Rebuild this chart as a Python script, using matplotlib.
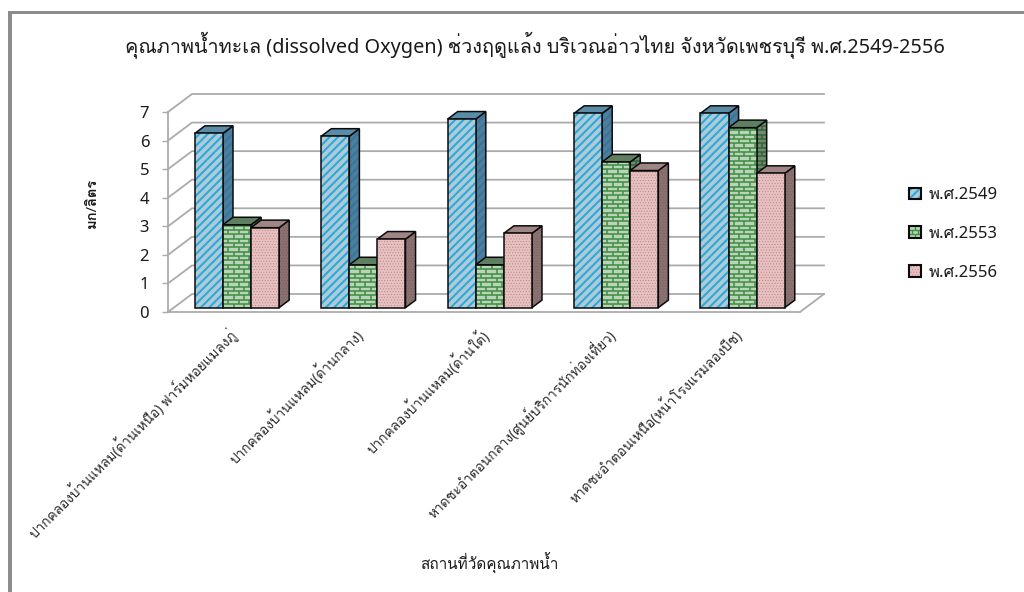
import matplotlib
matplotlib.use('Agg')
import matplotlib.pyplot as plt
from matplotlib.collections import LineCollection
from matplotlib.legend_handler import HandlerBase
from matplotlib.patches import Patch, Polygon, Rectangle
from matplotlib.transforms import ScaledTranslation

plt.rcParams['font.family'] = ['Noto Sans', 'Loma', 'DejaVu Sans']

TITLE = 'คุณภาพน้ำทะเล (dissolved Oxygen) ช่วงฤดูแล้ง บริเวณอ่าวไทย จังหวัดเพชรบุรี พ.ศ.2549-2556'
X_TITLE = 'สถานที่วัดคุณภาพน้ำ'
Y_TITLE = 'มก/ลิตร'

sites = [
    'ปากคลองบ้านแหลม(ด้านเหนือ) ฟาร์มหอยแมลงภู่',
    'ปากคลองบ้านแหลม(ด้านกลาง)',
    'ปากคลองบ้านแหลม(ด้านใต้)',
    'หาดชะอำตอนกลาง(ศูนย์บริการนักท่องเที่ยว)',
    'หาดชะอำตอนเหนือ(หน้าโรงแรมลองบีช)',
]
years = ['พ.ศ.2549', 'พ.ศ.2553', 'พ.ศ.2556']
do_2549 = [6.1, 6.0, 6.6, 6.8, 6.8]
do_2553 = [2.9, 1.5, 1.5, 5.1, 6.3]
do_2556 = [2.8, 2.4, 2.6, 4.8, 4.7]
y_ticks = [0, 1, 2, 3, 4, 5, 6, 7]

W, H = 1024, 592
GRID = '#ababab'
INK = '#1a1a1a'
BLACK = '#0a0a0a'

# Oblique projection of the chart box, in data units per unit of depth
DEPTH_X = 24 / 126.4
DEPTH_Y = 18 / 28.57
BAR_W = 1 / 4.5
BAR_FRONT = 0.24
BAR_BACK = 0.66

STYLES = [
    dict(front='#aecbd9', hatch='////', hatch_lw=1.5, ink='#2ea9d8',
         side='#4b7f9f', top='#5a8ca8', side_ink='#3f7396'),
    dict(front='#bcd3b8', brick='#3d8f45',
         side='#6d8c6d', top='#5f8060', side_ink='#35603a'),
    dict(front='#e4c2c2', hatch='......', hatch_lw=0.4, ink='#cf7f7f',
         side='#8b7272', top='#a08585', side_ink='#7a5c5c'),
]


def px_box(left, top, right, bottom):
    return [left / W, 1 - bottom / H, (right - left) / W, (bottom - top) / H]


def project(x, v, d):
    return x + d * DEPTH_X, v + d * DEPTH_Y


def brick_lines(x0, x1, y0, y1):
    row, col = 0.152, 0.084
    segs = []
    n = 0
    y = y0
    while y < y1:
        segs.append([(x0, y), (x1, y)])
        x = x0 + (col / 2 if n % 2 else 0)
        while x < x1:
            segs.append([(x, y), (x, y + row)])
            x += col
        y += row
        n += 1
    return segs


def hatch_artist(make, style, ink):
    # A patch keeps the hatch line width that is current when it is created
    with plt.rc_context({'hatch.linewidth': style['hatch_lw']}):
        return make(facecolor='none', edgecolor=ink, lw=0, hatch=style['hatch'])


def textured_face(ax, pts, fill, style, ink, lw=1.1):
    face = Polygon(pts, closed=True, facecolor=fill, edgecolor='none', lw=0,
                   clip_on=False, zorder=3)
    ax.add_patch(face)
    if style.get('hatch'):
        ax.add_patch(hatch_artist(
            lambda **kw: Polygon(pts, closed=True, clip_on=False, zorder=3, **kw),
            style, ink))
    elif style.get('brick'):
        xs = [p[0] for p in pts]
        ys = [p[1] for p in pts]
        bricks = LineCollection(
            brick_lines(min(xs), max(xs), min(ys) - 0.02, max(ys)),
            colors=ink, linewidths=lw, zorder=3)
        ax.add_collection(bricks, autolim=False)
        bricks.set_clip_path(face)
    ax.add_patch(Polygon(pts, closed=True, facecolor='none', edgecolor=BLACK,
                         lw=1.1, clip_on=False, zorder=3, joinstyle='miter'))


def draw_bar(ax, left, value, style):
    right = left + BAR_W
    fl = project(left, 0, BAR_FRONT)
    fr = project(right, 0, BAR_FRONT)
    tl = project(left, value, BAR_FRONT)
    tr = project(right, value, BAR_FRONT)
    bl = project(left, value, BAR_BACK)
    br = project(right, value, BAR_BACK)
    sb = project(right, 0, BAR_BACK)

    textured_face(ax, [fr, sb, br, tr], style['side'], style, style['side_ink'])
    ax.add_patch(Polygon([tl, tr, br, bl], closed=True, facecolor=style['top'],
                         edgecolor=BLACK, lw=1.1, clip_on=False, zorder=3))
    ink = style.get('ink', style.get('brick'))
    textured_face(ax, [fl, fr, tr, tl], style['front'], style, ink)


class HatchedKey(HandlerBase):
    def create_artists(self, legend, orig, xd, yd, width, height, fontsize, trans):
        st = orig.style
        x, y = -xd, -yd
        artists = [Rectangle((x, y), width, height, facecolor=st['front'],
                             edgecolor='none', transform=trans)]
        if st.get('hatch'):
            artists.append(hatch_artist(
                lambda **kw: Rectangle((x, y), width, height, transform=trans, **kw),
                st, st['ink']))
        else:
            segs = [[(x, y + height * f), (x + width, y + height * f)]
                    for f in (0.33, 0.66)]
            segs += [[(x + width * .5, y), (x + width * .5, y + height * .33)],
                     [(x + width * .25, y + height * .33), (x + width * .25, y + height * .66)],
                     [(x + width * .75, y + height * .33), (x + width * .75, y + height * .66)],
                     [(x + width * .5, y + height * .66), (x + width * .5, y + height)]]
            artists.append(LineCollection(segs, colors=st['brick'], linewidths=1.0,
                                          transform=trans))
        artists.append(Rectangle((x, y), width, height, facecolor='none',
                                 edgecolor=BLACK, lw=1.5, transform=trans))
        return artists


fig = plt.figure(figsize=(W / 100, H / 100), dpi=100, facecolor='white')

# Outer chart frame: left and top edges only, the rest runs off the page
for box in ((8, 11, 12, 592), (8, 11, 1024, 14)):
    fig.add_artist(Rectangle((box[0] / W, 1 - box[3] / H), (box[2] - box[0]) / W,
                             (box[3] - box[1]) / H, transform=fig.transFigure,
                             facecolor='#8c8c8c', edgecolor='none'))

ax = fig.add_axes(px_box(168, 112, 800, 312))
ax.set_xlim(0, len(sites))
ax.set_ylim(0, 7)
ax.patch.set_visible(False)

for name in ('top', 'right'):
    ax.spines[name].set_visible(False)
for name in ('left', 'bottom'):
    ax.spines[name].set_color(GRID)
    ax.spines[name].set_linewidth(1.3)
    ax.spines[name].set_zorder(1)

ax.set_yticks(y_ticks)
ax.tick_params(axis='y', length=4.5, width=1.0, color=GRID, labelsize=12,
               pad=9, labelcolor=INK)
ax.set_xticks([i + 0.5 for i in range(len(sites))])
ax.set_xticklabels(sites, rotation=45, ha='right', rotation_mode='anchor',
                   fontsize=9.8, color='#2a2a2a')
ax.tick_params(axis='x', length=0, pad=10)
shift = ScaledTranslation(-4 / 100, 0, fig.dpi_scale_trans)
for label in ax.get_xticklabels():
    label.set_transform(label.get_transform() + shift)

# Wall gridlines and the floor edges
n_sites = len(sites)
for v in y_ticks:
    x0, y0 = project(0, v, 0)
    x1, y1 = project(0, v, 1)
    x2, y2 = project(n_sites, v, 1)
    ax.plot([x0, x1, x2], [y0, y1, y2], color=GRID, lw=1.3, clip_on=False, zorder=1)
x0, y0 = project(n_sites, 0, 0)
x1, y1 = project(n_sites, 0, 1)
ax.plot([x0, x1], [y0, y1], color=GRID, lw=1.3, clip_on=False, zorder=1)

# Three bars per site, drawn left to right so the nearer faces overlap correctly
gap = (1 - 3 * BAR_W) / 2
for i in range(n_sites):
    for j, series in enumerate((do_2549, do_2553, do_2556)):
        draw_bar(ax, i + gap + j * BAR_W, series[i], STYLES[j])

fig.text(535 / W, 1 - 45 / H, TITLE, ha='center', va='center', fontsize=14.3, color=INK)
fig.text(489 / W, 1 - 563 / H, X_TITLE, ha='center', va='center', fontsize=11,
         color=INK)
fig.text(92 / W, 1 - 203 / H, Y_TITLE, ha='center', va='center', rotation=90,
         fontsize=10.5, fontweight='bold', color=INK)

handles = []
for label, st in zip(years, STYLES):
    h = Patch(label=label)
    h.style = st
    handles.append(h)
fig.legend(handles=handles, handler_map={Patch: HatchedKey()}, frameon=False,
           loc='center left', bbox_to_anchor=(894 / W, 1 - 234 / H),
           fontsize=12, labelspacing=1.36, handlelength=0.74, handleheight=0.72,
           handletextpad=0.45, labelcolor=INK)

fig.savefig('out.png', dpi=100)
